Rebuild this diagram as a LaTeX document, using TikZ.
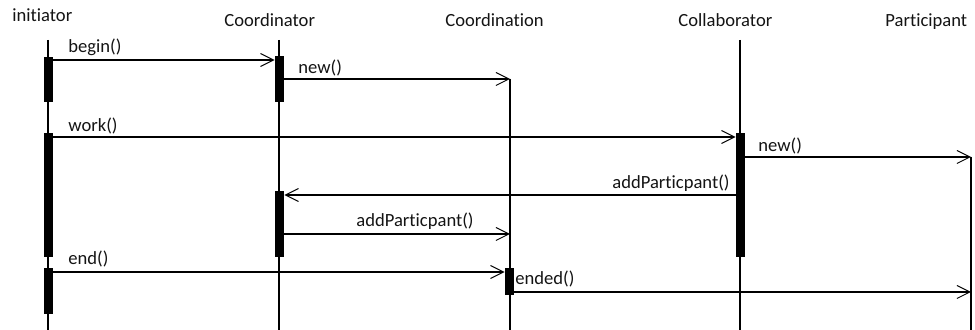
\documentclass[tikz,border=0pt]{standalone}
\usepackage{fontspec}
\setmainfont{Carlito}[Ligatures={NoCommon,NoContextual}]
\usepackage{tikz}
\usetikzlibrary{positioning,arrows.meta,calc}
\definecolor{ink}{RGB}{20,20,20}
\tikzset{
  head/.style={anchor=base west, inner sep=0pt, font=\fontsize{9.3}{11}\selectfont, text=ink},
  lbl/.style={anchor=base west, inner sep=0pt, font=\fontsize{9.3}{11}\selectfont, text=ink},
  life/.style={line width=1pt, draw=black},
  bar/.style={fill=black, draw=none, anchor=north, minimum width=4.5pt, inner sep=0pt},
  msg/.style={-{Straight Barb[length=6.5pt,width=6.5pt,line width=0.5pt]}, line width=1pt, draw=black},
}

\begin{document}
\begin{tikzpicture}[x=0.5pt, y=-0.5pt]
  \useasboundingbox (0,0) rectangle (975,330);
  % headers
  \node[head] (hini) at (12,22) {initiator};
  \node[head] (hcor) at (224,27) {Coordinator};
  \node[head] (hcon) at (445,27) {Coordination};
  \node[head] (hcol) at (678,27) {Collaborator};
  \node[head] (hpar) at (885,27) {Participant};
  % lifelines
  \coordinate (ini) at (48,40);
  \coordinate (cor) at (279,40);
  \coordinate (con) at (510,79);
  \coordinate (col) at (740,40);
  \coordinate (par) at (971,157);
  \foreach \l in {ini,cor,con,col,par}
    \draw[life] (\l) -- (\l |- 0,330);
  % activations
  \node[bar, minimum height=22.5pt] (ib1) at (48.5,57) {};
  \node[bar, minimum height=62pt] (ib2) at (48.5,133) {};
  \node[bar, minimum height=23pt] (ib3) at (48.5,268) {};
  \node[bar, minimum height=23pt] (cb1) at (279.5,56) {};
  \node[bar, minimum height=33pt] (cb2) at (279.5,191) {};
  \node[bar, minimum height=13.5pt] (nb) at (509.5,268) {};
  \node[bar, minimum height=62pt] (lb) at (740.5,133) {};
  % messages
  \draw[msg] (ib1.east |- 0,60) -- (cb1.west |- 0,60);
  \node[lbl] (lbegin) at (68,53) {begin()};
  \draw[msg] (cb1.east |- 0,79) -- (con);
  \node[lbl] (lnew1) at (298,74) {new()};
  \draw[msg] (ib2.east |- 0,137) -- (lb.west |- 0,137);
  \node[lbl] (lwork) at (68,132) {work()};
  \draw[msg] (lb.east |- 0,157) -- (par);
  \node[lbl] (lnew2) at (758,152) {new()};
  \draw[msg] (lb.west |- 0,195) -- (cb2.east |- 0,195);
  \node[lbl, anchor=base east] (ladd1) at (730,189) {addParticpant()};
  \draw[msg] (cb2.east |- 0,234) -- (con |- 0,234);
  \node[lbl] (ladd2) at (356,227) {addParticpant()};
  \draw[msg] (ib3.east |- 0,272) -- (nb.west |- 0,272);
  \node[lbl] (lend) at (68,265) {end()};
  \draw[msg] (nb.east |- 0,292) -- (par |- 0,292);
  \node[lbl] (lended) at (515,285) {ended()};
\end{tikzpicture}
\end{document}
